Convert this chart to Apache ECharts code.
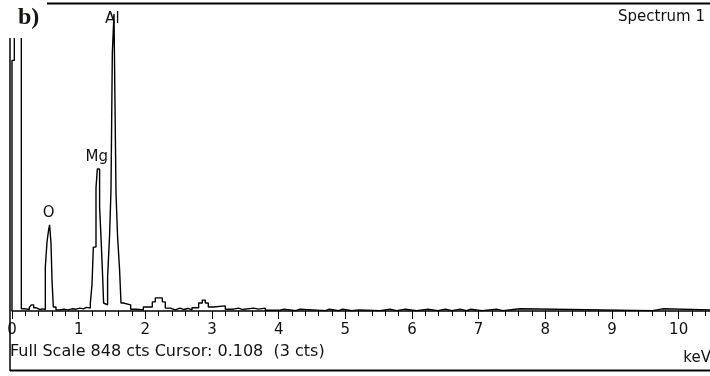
<!DOCTYPE html>
<html>
<head>
<meta charset="utf-8">
<script src="https://cdn.jsdelivr.net/npm/echarts@6/dist/echarts.min.js"></script>
<style>
  html, body { margin: 0; padding: 0; background: #fff; }
  #main { width: 710px; height: 376px; }
</style>
</head>
<body>
<div id="main"></div>
<script>
// EDS spectrum: each level starts at keV[i] and holds cts[i]
const keV = [
  0.00, 0.00, 0.035, 0.14, 0.20, 0.26, 0.29, 0.325, 0.36, 0.42, 0.46,
  0.50, 0.525, 0.549, 0.564, 0.585, 0.60, 0.62, 0.66, 0.72, 0.78, 0.84,
  0.90, 0.96, 1.02, 1.07, 1.12, 1.175, 1.20, 1.22, 1.26, 1.28, 1.314,
  1.335, 1.36, 1.374, 1.40, 1.434, 1.464, 1.485, 1.505, 1.53, 1.56,
  1.584, 1.614, 1.635, 1.67, 1.78, 1.87, 1.97, 2.105, 2.15, 2.255, 2.30,
  2.375, 2.45, 2.52, 2.58, 2.64, 2.70, 2.80, 2.855, 2.90, 2.945, 3.02,
  3.20, 3.32, 3.40, 3.46, 3.62, 3.70, 3.80, 4.02, 4.08, 4.26, 4.32,
  4.70, 4.76, 4.90, 4.96, 5.10, 5.20, 5.52, 5.67, 5.77, 5.90, 6.07,
  6.24, 6.39, 6.50, 6.60, 6.72, 6.82, 6.88, 7.05, 7.27, 7.36, 7.62,
  9.61, 9.76, 11.0
]
const cts = [
  0, 690, 3000, 6, 4, 10, 17, 9, 4, 6, 4,
  121, 190, 223, 237, 187, 85, 11, 3, 5, 3, 6,
  5, 8, 6, 10, 8, 22, 72, 176, 339, 391, 286,
  204, 94, 22, 17, 94, 209, 333, 710, 818, 325,
  204, 113, 22, 17, 5, 3, 11, 25, 36, 25, 8,
  3, 8, 4, 7, 3, 9, 22, 30, 22, 11, 14,
  5, 8, 4, 8, 5, 8, 2, 5, 1, 5, 1,
  5, 1, 5, 1, 3, 1, 5, 1, 5, 1, 5,
  1, 5, 1, 5, 1, 5, 1, 5, 1, 6, 1,
  6, 1, 1
]
const peakNames = ['O', 'Mg', 'Al']
const peakKeV = [0.55, 1.272, 1.505]
const peakCts = [237, 391, 818]
const fullScale = 848

const font = 'DejaVu Sans'
const ink = '#111'

const chart = echarts.init(document.getElementById('main'))

const option = {
  animation: false,
  grid: { left: 12, width: 733.3, top: 3, bottom: 65, containLabel: false, outerBoundsMode: 'none' },
  xAxis: {
    type: 'value',
    min: 0,
    max: 11,
    interval: 1,
    splitLine: { show: false },
    axisLine: { lineStyle: { color: '#000', width: 1.5 } },
    axisTick: { length: 8, lineStyle: { color: '#000', width: 1 } },
    minorTick: { show: true, splitNumber: 5, length: 5, lineStyle: { color: '#000', width: 1 } },
    axisLabel: { color: ink, fontFamily: font, fontSize: 15, margin: 12 }
  },
  yAxis: {
    type: 'value',
    min: 0,
    max: fullScale,
    show: false
  },
  series: [
    {
      type: 'line',
      step: 'end',
      showSymbol: false,
      silent: true,
      lineStyle: { color: '#000', width: 1.4 },
      data: keV.map((e, i) => [e, cts[i]]),
      markPoint: {
        symbol: 'circle',
        symbolSize: 1,
        itemStyle: { color: 'rgba(0,0,0,0)' },
        label: {
          show: true,
          position: 'inside',
          formatter: '{b}',
          color: ink,
          fontFamily: font,
          fontSize: 15
        },
        data: peakNames.map((n, i) => ({
          name: n,
          coord: [peakKeV[i], peakCts[i]],
          label: { offset: [0, n === 'Al' ? 5 : -12] }
        }))
      }
    }
  ],
  graphic: [
    { type: 'rect', z: 100, shape: { x: 0, y: 0, width: 47, height: 38 }, style: { fill: '#fff' } },
    { type: 'line', z: 101, shape: { x1: 47, y1: 3.5, x2: 710, y2: 3.5 }, style: { stroke: '#000', lineWidth: 2 } },
    { type: 'line', z: 101, shape: { x1: 10, y1: 38, x2: 10, y2: 371 }, style: { stroke: '#000', lineWidth: 1.5 } },
    { type: 'line', z: 101, shape: { x1: 10, y1: 370.5, x2: 710, y2: 370.5 }, style: { stroke: '#000', lineWidth: 2 } },
    {
      type: 'text', z: 102,
      style: { x: 18, y: 18, text: 'b)', font: 'bold 24px "Liberation Serif"', fill: '#1a1410',
        align: 'left', verticalAlign: 'middle', textAlign: 'left', textVerticalAlign: 'middle' }
    },
    {
      type: 'text', z: 102,
      style: { x: 705, y: 17, text: 'Spectrum 1', font: '15px "DejaVu Sans"', fill: ink,
        align: 'right', verticalAlign: 'middle', textAlign: 'right', textVerticalAlign: 'middle' }
    },
    {
      type: 'text', z: 102,
      style: { x: 10, y: 352, text: 'Full Scale 848 cts Cursor: 0.108  (3 cts)', font: '16px "DejaVu Sans"', fill: ink,
        align: 'left', verticalAlign: 'middle', textAlign: 'left', textVerticalAlign: 'middle' }
    },
    {
      type: 'text', z: 102,
      style: { x: 711, y: 358, text: 'keV', font: '15px "DejaVu Sans"', fill: ink,
        align: 'right', verticalAlign: 'middle', textAlign: 'right', textVerticalAlign: 'middle' }
    }
  ]
}

chart.setOption(option)
</script>
</body>
</html>
